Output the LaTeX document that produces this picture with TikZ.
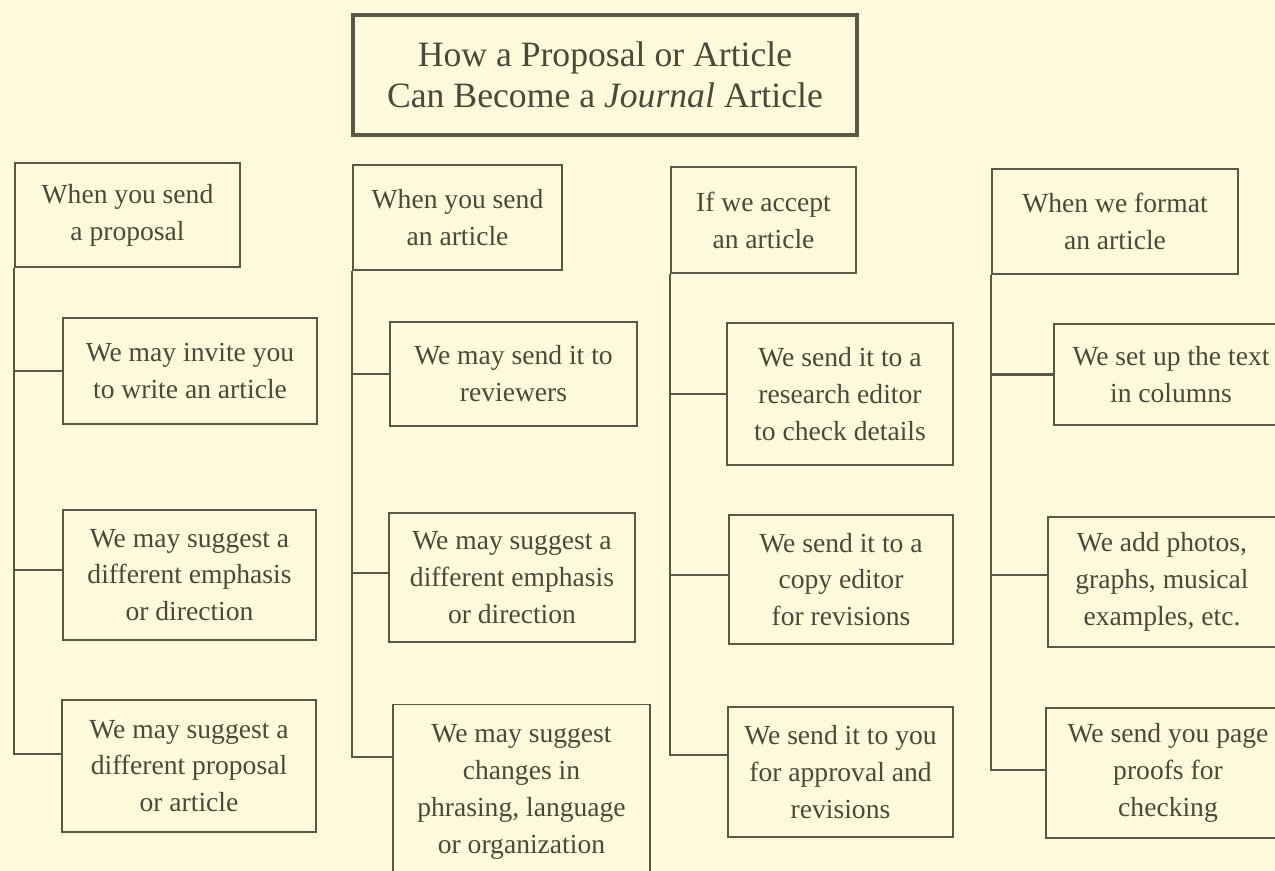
\documentclass[tikz,border=0pt]{standalone}
\usepackage{fontspec}
\setmainfont{Liberation Serif}
\usetikzlibrary{positioning, calc}
\definecolor{paper}{HTML}{FDFADC}
\definecolor{ink}{HTML}{5A5746}
\definecolor{print}{HTML}{4B4939}

\begin{document}
\begin{tikzpicture}[
    x=0.02cm, y=-0.02cm,
    font=\fontsize{15.7}{21}\selectfont,
    box/.style={draw=ink, line width=1.1pt, align=center, inner sep=0pt, text=print},
    head/.style={box, minimum height=2.1cm},
    title/.style={draw=ink, line width=2.4pt, align=center, inner sep=0pt, text=print,
      font=\fontsize{20.3}{23.5}\selectfont},
    trunk/.style={ink, line width=1.4pt}
]
  \fill[paper] (0,0) rectangle (1275,871);
  \useasboundingbox (0,0) rectangle (1275,871);

  \node[title, minimum width=10.08cm, minimum height=2.4cm] (top) at (605,75)
    {How a Proposal or Article\\Can Become a \textit{Journal} Article};

  % proposal column
  \node[head, minimum width=4.5cm, minimum height=2.08cm] (hp) at (127.5,215) {When you send\\a proposal};
  \node[box, minimum width=5.08cm, minimum height=2.12cm] (p1) at (190,371) {We may invite you\\to write an article};
  \node[box, minimum width=5.06cm, minimum height=2.6cm] (p2) at (189.5,575) {We may suggest a\\different emphasis\\or direction};
  \node[box, minimum width=5.08cm, minimum height=2.64cm] (p3) at (189,766) {We may suggest a\\different proposal\\or article};

  % article column
  \node[head, minimum width=4.18cm] (ha) at (457.5,217.5) {When you send\\an article};
  \node[box, minimum width=4.94cm, minimum height=2.08cm] (a1) at (513.5,374) {We may send it to\\reviewers};
  \node[box, minimum width=4.92cm, minimum height=2.58cm] (a2) at (512,577.5) {We may suggest a\\different emphasis\\or direction};
  \node[box, minimum width=5.14cm, minimum height=3.5cm] (a3) at (521.5,792) {We may suggest\\changes in\\phrasing, language\\or organization};

  % accept column
  \node[head, minimum width=3.7cm, minimum height=2.12cm] (hc) at (763.5,220) {If we accept\\an article};
  \node[box, minimum width=4.52cm, minimum height=2.84cm] (c1) at (840,394) {We send it to a\\research editor\\to check details};
  \node[box, minimum width=4.48cm, minimum height=2.58cm] (c2) at (841,579.5) {We send it to a\\copy editor\\for revisions};
  \node[box, minimum width=4.5cm, minimum height=2.6cm] (c3) at (840.5,772) {We send it to you\\for approval and\\revisions};

  % format column
  \node[head, minimum width=4.92cm] (hf) at (1115,221.5) {When we format\\an article};
  \node[box, minimum width=4.68cm, minimum height=2.02cm] (f1) at (1171,374.5) {We set up the text\\in columns};
  \node[box, minimum width=4.56cm, minimum height=2.6cm] (f2) at (1162,582) {We add photos,\\graphs, musical\\examples, etc.};
  \node[box, minimum width=4.88cm, minimum height=2.6cm] (f3) at (1168,773) {We send you page\\proofs for\\checking};

  % where the branches meet the boxes
  \coordinate (p2in) at ([yshift=0.1cm]p2.west);
  \coordinate (p3in) at ([yshift=0.24cm]p3.west);
  \coordinate (a2in) at ([yshift=0.09cm]a2.west);
  \coordinate (a3in) at ([yshift=0.7cm]a3.west);
  \coordinate (c2in) at ([yshift=0.09cm]c2.west);
  \coordinate (c3in) at ([yshift=0.34cm]c3.west);
  \coordinate (f2in) at ([yshift=0.14cm]f2.west);
  \coordinate (f3in) at ([yshift=0.06cm]f3.west);

  \draw[trunk] (hp.south west) |- (p3in);
  \draw[trunk] (hp.south west |- p1.west) -- (p1.west);
  \draw[trunk] (hp.south west |- p2in) -- (p2in);

  \draw[trunk] (ha.south west) |- (a3in);
  \draw[trunk] (ha.south west |- a1.west) -- (a1.west);
  \draw[trunk] (ha.south west |- a2in) -- (a2in);

  \draw[trunk] (hc.south west) |- (c3in);
  \draw[trunk] (hc.south west |- c1.west) -- (c1.west);
  \draw[trunk] (hc.south west |- c2in) -- (c2in);

  \draw[trunk] (hf.south west) |- (f3in);
  \draw[trunk] (hf.south west |- f1.west) -- (f1.west);
  \draw[trunk] (hf.south west |- f2in) -- (f2in);
\end{tikzpicture}
\end{document}
